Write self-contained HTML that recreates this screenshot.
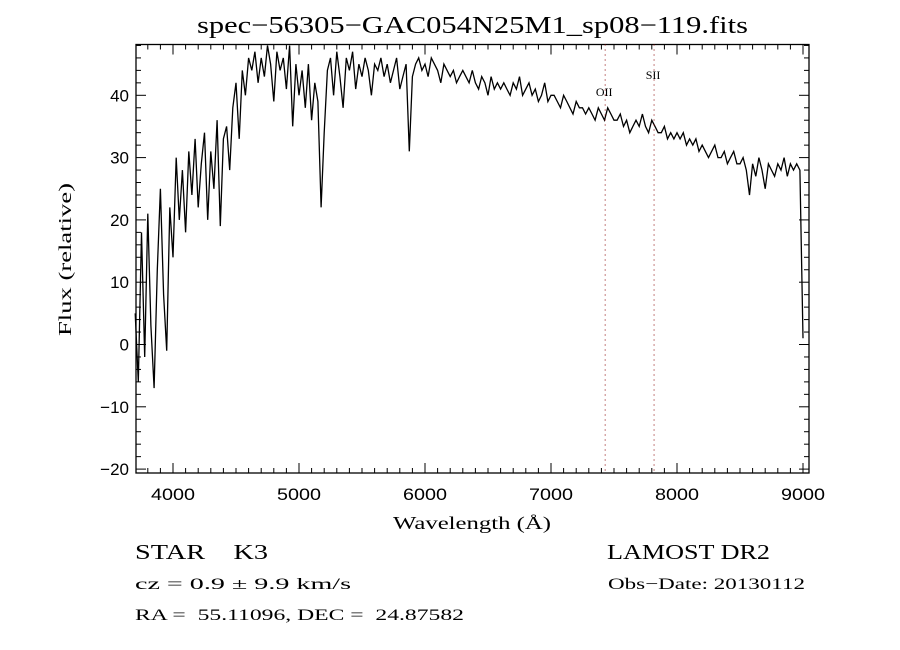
<!DOCTYPE html>
<html><head><meta charset="utf-8"><style>
body{margin:0;background:#fff;}
svg{display:block;}
.s{font-family:"Liberation Serif",serif;fill:#000;}
.a{font-family:"Liberation Sans",sans-serif;fill:#000;font-size:17px;}
</style></head><body>
<svg id="chart" width="900" height="650" viewBox="0 0 900 650" xmlns="http://www.w3.org/2000/svg">
<rect width="900" height="650" fill="#fff"/>
<text class="s" x="197" y="33" font-size="24" textLength="551" lengthAdjust="spacingAndGlyphs">spec−56305−GAC054N25M1_sp08−119.fits</text>
<g id="ticks"></g>
<rect x="136" y="44.5" width="673" height="428.5" fill="none" stroke="#000" stroke-width="1.3"/>
<polyline id="spec" fill="none" stroke="#000" stroke-width="1.3"/>
<g id="lines"></g>
<text class="s" x="393" y="529" font-size="18" textLength="158" lengthAdjust="spacingAndGlyphs">Wavelength (Å)</text>
<text class="s" x="0" y="0" font-size="18" textLength="153" lengthAdjust="spacingAndGlyphs" transform="translate(71,336) rotate(-90)">Flux (relative)</text>
<text class="s" x="135" y="559" font-size="21" xml:space="preserve" textLength="133" lengthAdjust="spacingAndGlyphs">STAR    K3</text>
<text class="s" x="607" y="559" font-size="21" textLength="163" lengthAdjust="spacingAndGlyphs">LAMOST DR2</text>
<text class="s" x="135" y="589" font-size="16" textLength="216" lengthAdjust="spacingAndGlyphs">cz = 0.9 ± 9.9 km/s</text>
<text class="s" x="608" y="589" font-size="16" textLength="197" lengthAdjust="spacingAndGlyphs">Obs−Date: 20130112</text>
<text class="s" x="135" y="620" font-size="16" xml:space="preserve" textLength="329" lengthAdjust="spacingAndGlyphs">RA =  55.11096, DEC =  24.87582</text>
</svg>
<script>
const wlStart = 3700;
const wlStep = 25;
const flux = [5,-6,18,-2,21,3,-7,12,25,8,-1,
22,14,30,20,28,18,
31,24,33,22,29,34,20,31,25,36,19,33,
35,28,38,42,33,44,40,46,
44,47,42,46,43,48,45,39,47,44,46,41,48,35,45,40,
44,38,45,36,42,39,22,34,
44,46,40,47,43,38,46,44,47,41,45,43,46,44,40,45,
44,46,43,45,42,44,46,41,43,45,31,43,
45,46,44,45,43,46,45,44,42,45,44,43,44,42,43,44,
43,42,44,42,41,43,42,40,43,41,42,41,
42,41,40,42,41,43,40,41,42,40,41,39,40,42,39,40,
40,39,38,40,39,38,37,39,38,38,37,38,37,36,38,37,36,38,37,36,
36,37,35,36,34,35,36,35,37,35,34,36,35,34,34,35,33,34,33,34,
33,34,32,33,32,33,31,32,31,30,31,32,30,30,31,29,30,31,29,29,
30,28,24,29,27,30,28,25,29,28,27,29,28,30,27,29,28,29,28,1];
const xTickLabels = [4000,5000,6000,7000,8000,9000];
const yTickLabels = [-20,-10,0,10,20,30,40];
const lineNames = ["OII","SII"];
const lineWl = [7430,7818];

const X0=136, X1=809, Y0=44.5, Y1=473;
function xs(w){return 173+(w-4000)*0.126;}
function ys(f){return 344.5-f*6.23;}
const NS="http://www.w3.org/2000/svg";
const tg=document.getElementById('ticks');
function ln(x1,y1,x2,y2,p,name){const l=document.createElementNS(NS,'line');
l.setAttribute('x1',x1);l.setAttribute('y1',y1);l.setAttribute('x2',x2);l.setAttribute('y2',y2);
l.setAttribute('stroke','#000');l.setAttribute('stroke-width','1');


p.appendChild(l);return l;}
for(let w=3800;w<=9000;w+=100){const x=xs(w);const L=(w%1000===0)?10:5;
ln(x,Y1,x,Y1-L,tg,'x-tick');ln(x,Y0,x,Y0+L,tg,'x-tick-top');}
for(let f=-20;f<=48;f+=2){const y=ys(f);const L=(f%10===0)?10:5;
ln(X0,y,X0+L,y,tg,'y-tick');ln(X1,y,X1-L,y,tg,'y-tick-right');}
xTickLabels.forEach(v=>{const t=document.createElementNS(NS,'text');
t.setAttribute('x',xs(v)-22);t.setAttribute('y',500);t.setAttribute('class','a');
t.setAttribute('textLength','44');t.setAttribute('lengthAdjust','spacingAndGlyphs');


t.textContent=v;tg.appendChild(t);});
yTickLabels.forEach(v=>{const t=document.createElementNS(NS,'text');
t.setAttribute('x',129);t.setAttribute('y',ys(v)+6);t.setAttribute('class','a');t.setAttribute('text-anchor','end');


t.textContent=(v<0?'−'+(-v):v);tg.appendChild(t);});
const pts=flux.map((f,i)=>xs(wlStart+i*wlStep).toFixed(1)+','+ys(f).toFixed(1)).join(' ');
document.getElementById('spec').setAttribute('points',pts);
const lg=document.getElementById('lines');
lineWl.forEach((w,i)=>{const l=ln(xs(w),Y0,xs(w),Y1,lg,'emission-line-marker');
l.setAttribute('stroke','#800');l.setAttribute('stroke-dasharray','1,4');
const t=document.createElementNS(NS,'text');
t.setAttribute('x',xs(w)-1);t.setAttribute('y',i===0?96:79);t.setAttribute('class','s');t.setAttribute('font-size','12');t.setAttribute('text-anchor','middle');


t.textContent=lineNames[i];lg.appendChild(t);});
</script>
</body></html>
